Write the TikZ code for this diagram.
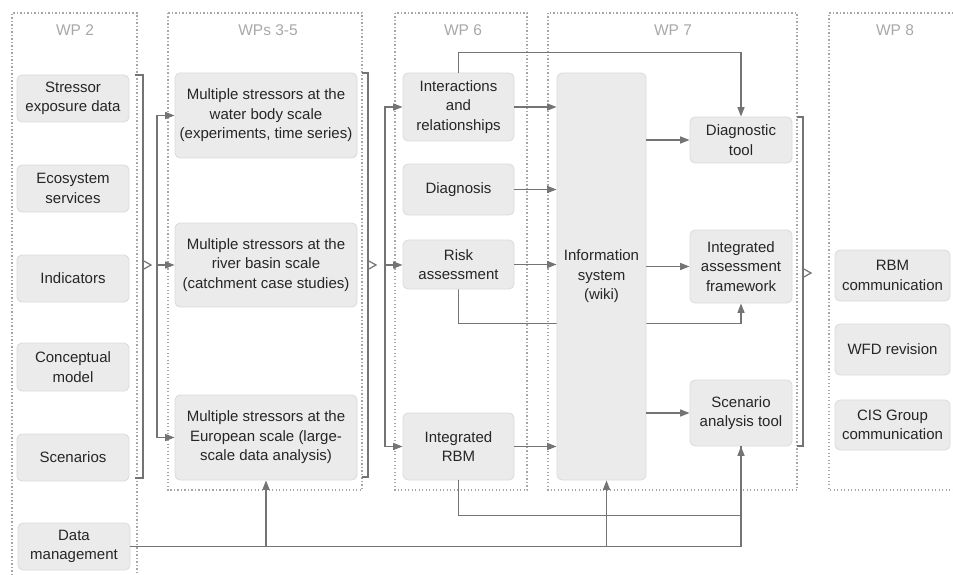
\documentclass[tikz,border=0pt]{standalone}
\usepackage{fontspec}
\setmainfont{Liberation Sans}
\usetikzlibrary{arrows.meta,calc}
\pgfdeclarelayer{bg}
\pgfsetlayers{bg,main}
\definecolor{boxfill}{HTML}{EBEBEB}
\definecolor{boxline}{HTML}{DADADA}
\definecolor{txt}{HTML}{262626}
\definecolor{ln}{HTML}{747474}
\definecolor{pan}{HTML}{A6A6A6}
\definecolor{ttl}{HTML}{A8A8A8}
\begin{document}
\begin{tikzpicture}[x=1pt,y=-1pt,
  box/.style={draw=boxline, line width=0.8pt, fill=boxfill, rounded corners=5pt, align=center, inner sep=1pt, text=txt, font=\fontsize{15}{19.5}\selectfont},
  conn/.style={draw=ln, line width=1.4pt},
  arr/.style={conn, -{Triangle[length=9.5pt,width=7pt]}},
  hollow/.style={draw=ln, line width=1.2pt, line join=miter},
  panel/.style={draw=pan, line width=1.1pt, dash pattern=on 1.1pt off 2.4pt},
  ttlstyle/.style={text=ttl, font=\fontsize{15.5}{18}\selectfont}]
\useasboundingbox (0,0) rectangle (953,575);

% panels
\begin{pgfonlayer}{bg}
\draw[panel] (12,575) -- (12,13) -- (137,13) -- (137,575);
\draw[panel] (168,13) rectangle (362,490);
\draw[panel] (395,13) rectangle (527,490);
\draw[panel] (548,13) rectangle (797,490);
\draw[panel] (953,13) -- (829,13) -- (829,490) -- (953,490);
\end{pgfonlayer}

% titles
\node[ttlstyle] (t2) at (75,30) {WP 2};
\node[ttlstyle] (t35) at (268,30) {WPs 3-5};
\node[ttlstyle] (t6) at (463,30) {WP 6};
\node[ttlstyle] (t7) at (673,30) {WP 7};
\node[ttlstyle] (t8) at (895,30) {WP 8};

% WP 2
\node[box, minimum width=112pt, minimum height=47pt] (se) at (73,98.5) {Stressor\\exposure data};
\node[box, minimum width=112pt, minimum height=47pt] (es) at (73,188.5) {Ecosystem\\services};
\node[box, minimum width=112pt, minimum height=47pt] (ind) at (73,278.5) {Indicators};
\node[box, minimum width=112pt, minimum height=48pt] (cm) at (73,367) {Conceptual\\model};
\node[box, minimum width=112pt, minimum height=47pt] (sc) at (73,457.5) {Scenarios};
\node[box, minimum width=112pt, minimum height=47pt] (dm) at (74,546.5) {Data\\management};

% WPs 3-5
\node[box, minimum width=182pt, minimum height=85pt] (m1) at (266,115.5) {Multiple stressors at the\\water body scale\\(experiments, time series)};
\node[box, minimum width=182pt, minimum height=84pt] (m2) at (266,265) {Multiple stressors at the\\river basin scale\\(catchment case studies)};
\node[box, minimum width=182pt, minimum height=85pt] (m3) at (266,437.5) {Multiple stressors at the\\European scale (large-\\scale data analysis)};

% WP 6
\node[box, minimum width=111pt, minimum height=68pt] (ir) at (458.5,107) {Interactions\\and\\relationships};
\node[box, minimum width=111pt, minimum height=51pt] (dg) at (458.5,189.5) {Diagnosis};
\node[box, minimum width=111pt, minimum height=49pt] (ra) at (458.5,264.5) {Risk\\assessment};
\node[box, minimum width=111pt, minimum height=67pt] (irbm) at (458.5,446.5) {Integrated\\RBM};

% WP 7
\node[box, minimum width=89pt, minimum height=407pt] (info) at (601.5,276.5) {Information\\system\\(wiki)};
\node[box, minimum width=102pt, minimum height=46pt] (dt) at (741,140) {Diagnostic\\tool};
\node[box, minimum width=102pt, minimum height=73pt] (iaf) at (741,266.5) {Integrated\\assessment\\framework};
\node[box, minimum width=102pt, minimum height=66pt] (sat) at (741,413) {Scenario\\analysis tool};

% WP 8
\node[box, minimum width=115pt, minimum height=51pt] (rbmc) at (892.5,275.5) {RBM\\communication};
\node[box, minimum width=115pt, minimum height=51pt] (wfd) at (892.5,349.5) {WFD revision};
\node[box, minimum width=115pt, minimum height=50pt] (cis) at (892.5,425) {CIS Group\\communication};

% bracket 1 and distribution to WPs 3-5
\draw[conn] (135,75) -- (143,75) -- (143,478) -- (135,478);
\draw[hollow] (143,260.5) -- (151,265) -- (143,269.5);
\coordinate (d1) at (157,265);
\draw[arr] (d1) |- (m1.west);
\draw[arr] (d1) |- (m3.west);
\draw[arr] (d1) -- (d1 -| m2.west);

% bracket 2 and distribution to WP 6
\draw[conn] (362,73) -- (368,73) -- (368,477) -- (362,477);
\draw[hollow] (368,260.5) -- (376,265) -- (368,269.5);
\coordinate (d2) at (385,265);
\draw[arr] (d2) |- (ir.west);
\draw[arr] (d2) |- (irbm.west);
\draw[arr] (d2) -- (d2 -| ra.west);

% WP 6 -> information system
\draw[arr] (ir.east) -- (ir.east -| info.west);
\draw[arr] (dg.east) -- (dg.east -| info.west);
\draw[arr] (ra.east) -- (ra.east -| info.west);
\draw[arr] (irbm.east) -- (irbm.east -| info.west);

% information system -> WP 7 tools
\draw[arr] (info.east |- dt.west) -- (dt.west);
\draw[arr] (info.east |- iaf.west) -- (iaf.west);
\draw[arr] (info.east |- sat.west) -- (sat.west);

% direct links
\draw[arr] (ir.north) -- ++(0,-20) -| (dt.north);
\begin{pgfonlayer}{bg}
\draw[arr] (ra.south) -- ++(0,34) -| (iaf.south);
\end{pgfonlayer}
\draw[conn] (irbm.south) -- ++(0,35) -| (sat.south);
\draw[arr] (dm.east) -| (sat.south);
\draw[arr] (dm.east -| m3.south) -- (m3.south);
\coordinate (ib) at ([xshift=5pt]info.south);
\draw[arr] (dm.east -| ib) -- (ib);

% bracket 3
\draw[conn] (797,117) -- (803,117) -- (803,446) -- (797,446);
\draw[hollow] (803,268.5) -- (811,273) -- (803,277.5);
\end{tikzpicture}
\end{document}
